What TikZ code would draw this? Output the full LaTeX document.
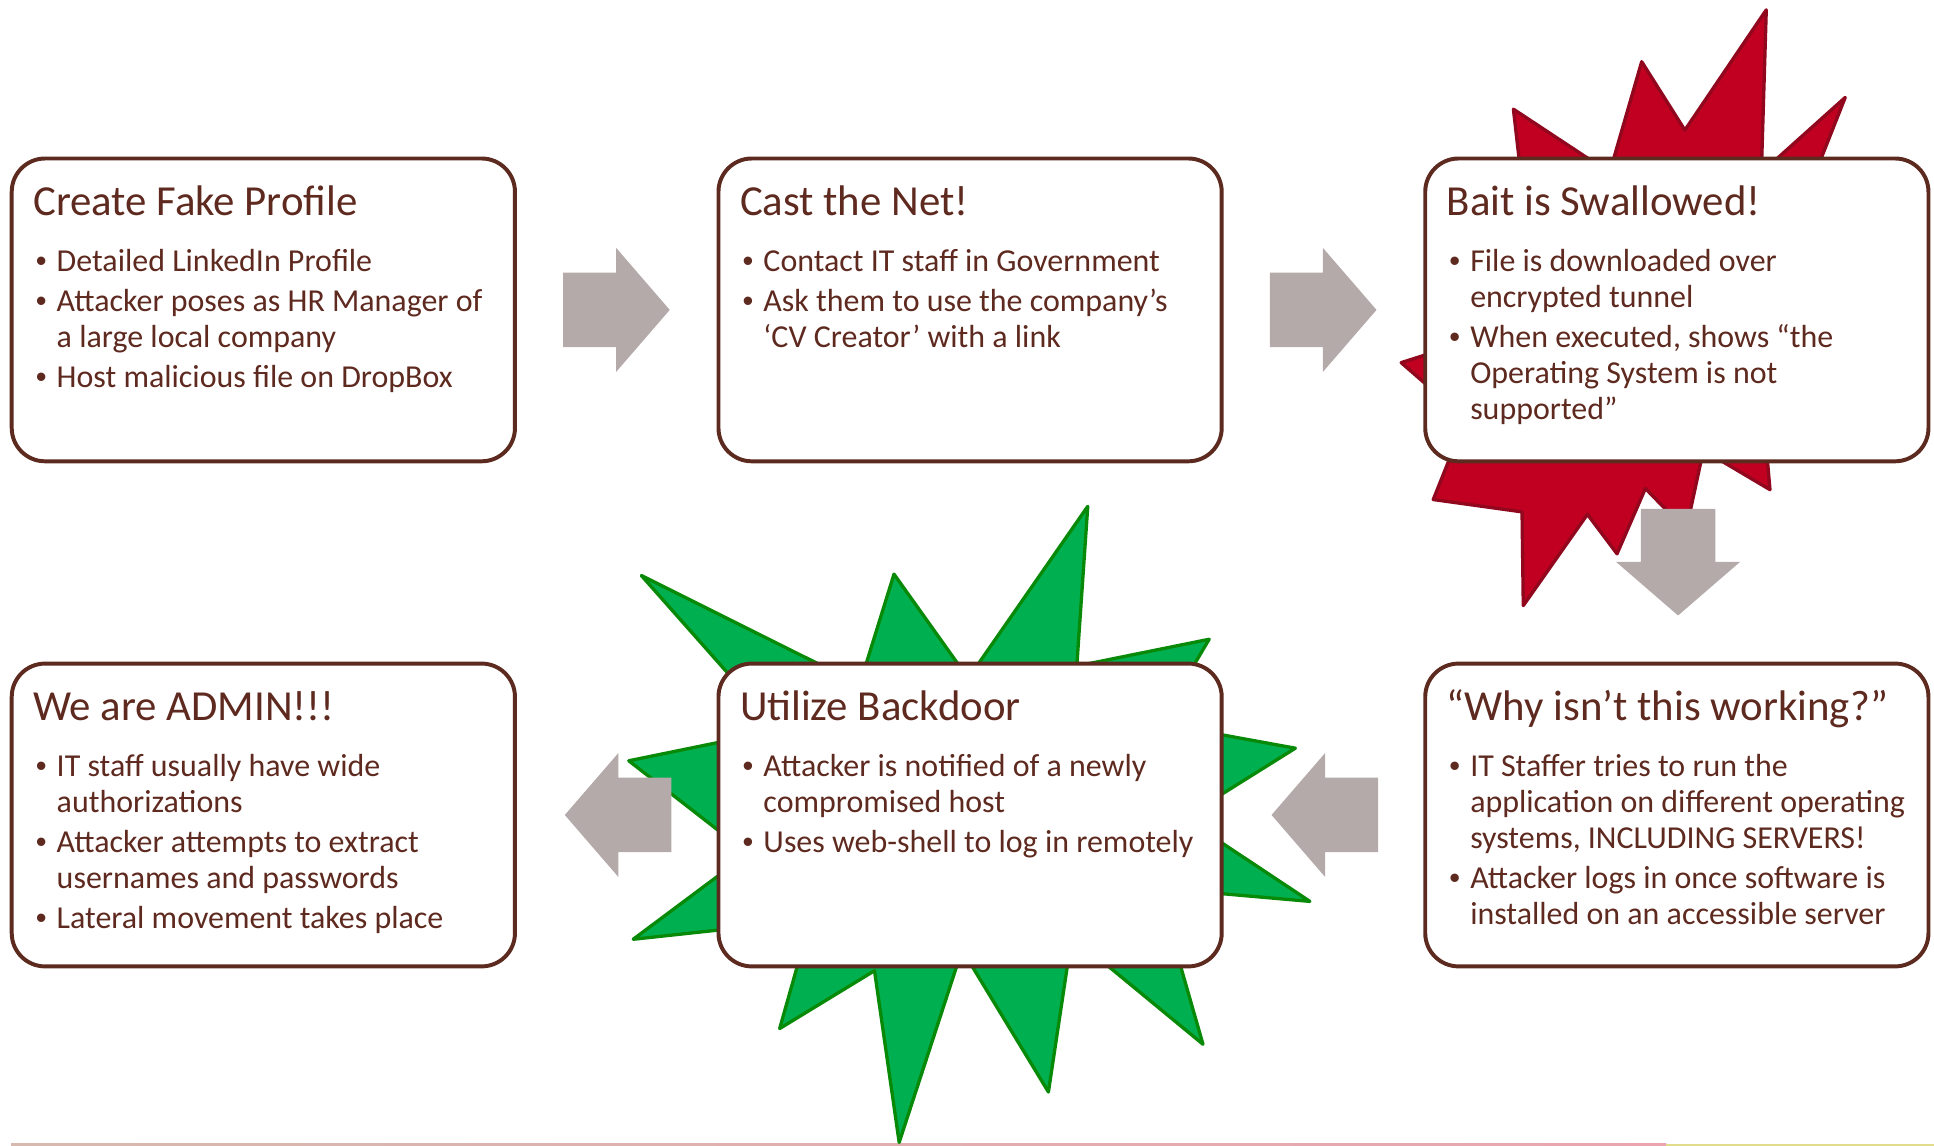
\documentclass[tikz,border=0pt]{standalone}
\usepackage{fontspec}
\setmainfont{Carlito}
\newfontfamily\bulfont{Liberation Sans}
\usetikzlibrary{calc}
\definecolor{txtbrown}{RGB}{94,41,30}
\definecolor{boxbrown}{RGB}{92,42,30}
\definecolor{arrowgray}{RGB}{181,170,170}
\definecolor{starred}{RGB}{193,0,33}
\definecolor{starredline}{RGB}{145,8,30}
\definecolor{stargreen}{RGB}{0,176,80}
\definecolor{stargreenline}{RGB}{8,138,8}
\definecolor{linetan}{RGB}{215,185,175}
\definecolor{linepink}{RGB}{235,165,175}
\definecolor{lineyellow}{RGB}{225,220,140}
\tikzset{
  stepbox/.style={draw=boxbrown, line width=3.2pt, fill=white, rounded corners=27pt,
    minimum width=408pt, minimum height=245.5pt, inner sep=0pt},
  ttl/.style={anchor=base west, inner sep=0pt, text=txtbrown, font=\fontsize{34.7}{40}\selectfont},
  bl/.style={anchor=base west, inner sep=0pt, text=txtbrown, font=\fontsize{25.9}{28}\selectfont},
  bdot/.style={anchor=base west, inner sep=0pt, text=txtbrown, font=\bulfont\fontsize{25}{28}\selectfont},
  starshape/.style={line width=2.7pt, line join=round},
  blockarrow/.pic={\fill[arrowgray] (0,-30.2) -- (43,-30.2) -- (43,-50.2) -- (86.4,0) -- (43,50.2) -- (43,30.2) -- (0,30.2) -- cycle;}
}
\begin{document}
\begin{tikzpicture}[x=1pt,y=-1pt]
\useasboundingbox (0,0) rectangle (1568,929.1);
% faint footer line
\shade[left color=linetan, right color=linepink] (9,927.4) rectangle (1351,928.8);
\fill[lineyellow] (1351,927.4) rectangle (1568,928.8);
% red starburst
\filldraw[starshape, fill=starred, draw=starredline]
  (1432,8) -- (1428,140) -- (1496,79) -- (1466,155) -- (1430,340) -- (1435,397)
  -- (1381,365) -- (1367,430) -- (1334,396) -- (1311,449) -- (1287,417) -- (1235,491)
  -- (1234,415) -- (1162,405) -- (1178,365) -- (1175,328) -- (1136,294) -- (1180,280)
  -- (1234,150) -- (1227,88.5) -- (1305,140) -- (1331,50) -- (1366,105.5) -- cycle;
% green starburst
\filldraw[starshape, fill=stargreen, draw=stargreenline]
  (520,466.6) -- (697,555) -- (724.8,465.5) -- (785,550) -- (881.9,410.5) -- (873,540)
  -- (980.3,518.3) -- (940,586.5) -- (1050.2,606.6) -- (960,663) -- (1062,730.8)
  -- (939,720) -- (975.3,846.6) -- (869,759) -- (850,885.3) -- (780,770) -- (729,926.2)
  -- (709,787) -- (632.1,833.9) -- (657,746) -- (513.4,761.5) -- (606.5,692)
  -- (509.8,616.8) -- (631,592) -- cycle;
% boxes
\node[stepbox] (b1) at (213.5,251.25) {};
\node[stepbox] (b2) at (786.5,251.25) {};
\node[stepbox] (b3) at (1359.5,251.25) {};
\node[stepbox] (b4) at (213.5,660.75) {};
\node[stepbox] (b5) at (786.5,660.75) {};
\node[stepbox] (b6) at (1359.5,660.75) {};
% arrows
\pic at ($(b1.east)+(37.5,0)$) {blockarrow};
\pic at ($(b2.east)+(37.5,0)$) {blockarrow};
\pic[rotate=-90] at ($(b3.south)+(1,37)$) {blockarrow};
\pic[rotate=180] at ($(b6.west)+(-36.6,0)$) {blockarrow};
\pic[rotate=180] at ($(b5.west)+(-36.6,0)$) {blockarrow};
% box 1
\node[ttl] (h1) at (26.8,175) {Create Fake Profile};
\node[bdot] (d1a) at (28.8,220.3) {•};
\node[bl] (l1a) at (45.8,220.3) {Detailed LinkedIn Profile};
\node[bdot] (d1b) at (28.8,252.8) {•};
\node[bl] (l1b) at (45.8,252.8) {Attacker poses as HR Manager of};
\node[bl] (l1c) at (45.8,281.8) {a large local company};
\node[bdot] (d1d) at (28.8,314.3) {•};
\node[bl] (l1d) at (45.8,314.3) {Host malicious file on DropBox};
% box 2
\node[ttl] (h2) at (599.8,175) {Cast the Net!};
\node[bdot] (d2a) at (601.8,220.3) {•};
\node[bl] (l2a) at (618.8,220.3) {Contact IT staff in Government};
\node[bdot] (d2b) at (601.8,252.8) {•};
\node[bl] (l2b) at (618.8,252.8) {Ask them to use the company’s};
\node[bl] (l2c) at (618.8,281.8) {‘CV Creator’ with a link};
% box 3
\node[ttl] (h3) at (1172.8,175) {Bait is Swallowed!};
\node[bdot] (d3a) at (1174.8,220.3) {•};
\node[bl] (l3a) at (1191.8,220.3) {File is downloaded over};
\node[bl] (l3b) at (1191.8,249.3) {encrypted tunnel};
\node[bdot] (d3c) at (1174.8,281.8) {•};
\node[bl] (l3c) at (1191.8,281.8) {When executed, shows “the};
\node[bl] (l3d) at (1191.8,310.8) {Operating System is not};
\node[bl] (l3e) at (1191.8,339.8) {supported”};
% box 4
\node[ttl] (h4) at (26.8,584.4) {We are ADMIN!!!};
\node[bdot] (d4a) at (28.8,629.8) {•};
\node[bl] (l4a) at (45.8,629.8) {IT staff usually have wide};
\node[bl] (l4b) at (45.8,658.8) {authorizations};
\node[bdot] (d4c) at (28.8,691.3) {•};
\node[bl] (l4c) at (45.8,691.3) {Attacker attempts to extract};
\node[bl] (l4d) at (45.8,720.3) {usernames and passwords};
\node[bdot] (d4e) at (28.8,752.8) {•};
\node[bl] (l4e) at (45.8,752.8) {Lateral movement takes place};
% box 5
\node[ttl] (h5) at (599.8,584.4) {Utilize Backdoor};
\node[bdot] (d5a) at (601.8,629.8) {•};
\node[bl] (l5a) at (618.8,629.8) {Attacker is notified of a newly};
\node[bl] (l5b) at (618.8,658.8) {compromised host};
\node[bdot] (d5c) at (601.8,691.3) {•};
\node[bl] (l5c) at (618.8,691.3) {Uses web-shell to log in remotely};
% box 6
\node[ttl] (h6) at (1172.8,584.4) {“Why isn’t this working?”};
\node[bdot] (d6a) at (1174.8,629.8) {•};
\node[bl] (l6a) at (1191.8,629.8) {IT Staffer tries to run the};
\node[bl] (l6b) at (1191.8,658.8) {application on different operating};
\node[bl] (l6c) at (1191.8,687.8) {systems, INCLUDING SERVERS!};
\node[bdot] (d6d) at (1174.8,720.3) {•};
\node[bl] (l6d) at (1191.8,720.3) {Attacker logs in once software is};
\node[bl] (l6e) at (1191.8,749.3) {installed on an accessible server};
\end{tikzpicture}
\end{document}
